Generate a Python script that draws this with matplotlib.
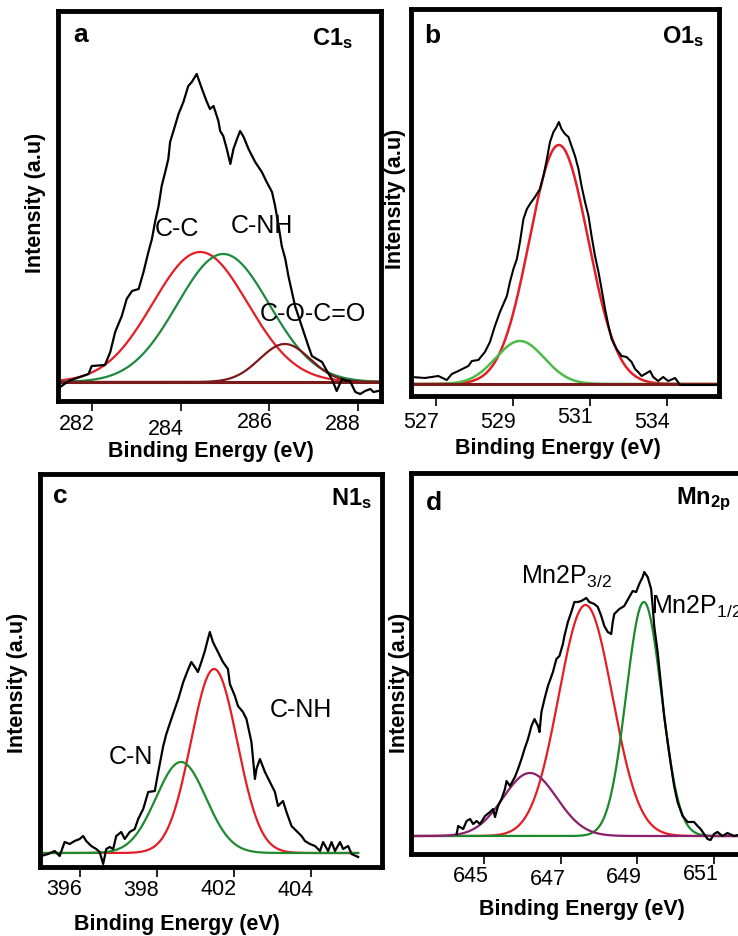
import numpy as np
import matplotlib
matplotlib.use('Agg')
import matplotlib.pyplot as plt
from matplotlib.transforms import ScaledTranslation

plt.rcParams['font.family'] = ['Liberation Sans', 'DejaVu Sans']
plt.rcParams['mathtext.fontset'] = 'custom'
plt.rcParams['mathtext.rm'] = 'Liberation Sans'
plt.rcParams['mathtext.bf'] = 'Liberation Sans:bold'
plt.rcParams['mathtext.it'] = 'Liberation Sans:italic'

W, H = 738, 937

# ---- panel a : C1s ----
c1s_x = [281.28, 281.47, 281.92, 281.99, 282.29, 282.41, 282.52, 282.67, 282.78, 282.90,
         283.05, 283.16, 283.27, 283.35, 283.42, 283.50, 283.57, 283.65, 283.72, 283.76,
         283.87, 283.95, 284.06, 284.17, 284.25, 284.36, 284.48, 284.59, 284.66, 284.74,
         284.85, 284.89, 284.96, 285.04, 285.12, 285.19, 285.27, 285.34, 285.42, 285.53,
         285.68, 285.83, 285.94, 286.06, 286.13, 286.21, 286.28, 286.36, 286.43, 286.51,
         286.58, 286.73, 286.88, 286.96, 287.07, 287.19, 287.30, 287.41, 287.52, 287.64,
         287.75, 287.82, 287.94, 288.05, 288.16, 288.28, 288.35, 288.46]
c1s_y = [-5, 1, 8, 16, 17, 30, 50, 66, 83, 91,
         93, 110, 130, 143, 160, 176, 196, 210, 223, 240,
         256, 268, 280, 296, 300, 308, 293, 280, 273, 276,
         261, 251, 246, 233, 218, 233, 243, 251, 245, 233,
         220, 210, 200, 190, 176, 156, 136, 123, 106, 90,
         76, 56, 36, 26, 23, 20, 11, 3, -9, 3,
         1, 1, -10, -12, -9, -7, -10, -9]
c1s_pos = [284.44, 284.96, 286.35]
c1s_amp = [130, 128, 38]
c1s_sig = [1.07, 1.04, 0.57]
c1s_names = ['C-C', 'C-NH', 'C-O-C=O']
c1s_ticks = [282, 284, 286, 288]
c1s_ticklabels = ['282', '284', '286', '288']

# ---- panel b : O1s ----
o1s_x = [526.37, 526.71, 527.06, 527.28, 527.41, 527.58, 527.84, 527.93, 528.10, 528.27,
         528.40, 528.53, 528.66, 528.75, 528.84, 528.92, 529.01, 529.10, 529.18, 529.27,
         529.36, 529.44, 529.57, 529.70, 529.79, 529.87, 529.96, 530.05, 530.13, 530.19,
         530.26, 530.35, 530.44, 530.52, 530.61, 530.70, 530.78, 530.87, 530.96, 531.04,
         531.13, 531.22, 531.30, 531.39, 531.48, 531.56, 531.69, 531.82, 531.95, 532.08,
         532.17, 532.25, 532.34, 532.43, 532.56, 532.64, 532.77, 532.90, 533.03, 533.21,
         533.34, 534.33]
o1s_y = [7, 6, 8, 4, 10, 13, 18, 23, 24, 32,
         42, 58, 72, 80, 88, 102, 115, 125, 142, 165,
         175, 180, 187, 195, 208, 223, 242, 252, 257, 262,
         255, 250, 247, 238, 228, 215, 198, 182, 168, 148,
         128, 112, 95, 75, 58, 45, 35, 28, 27, 22,
         15, 12, 8, 10, 13, 7, 3, 7, 3, 6,
         -1, -1]
o1s_pos = [530.19, 529.18]
o1s_amp = [239, 43]
o1s_sig = [0.76, 0.63]
o1s_ticks = [527, 529, 531, 533]
o1s_ticklabels = ['527', '529', '531', '534']

# ---- panel c : N1s ----
n1s_x = [394.99, 395.17, 395.34, 395.47, 395.60, 395.73, 395.86, 395.99, 396.08, 396.16,
         396.29, 396.42, 396.51, 396.60, 396.68, 396.77, 396.86, 396.94, 397.07, 397.16,
         397.29, 397.42, 397.51, 397.64, 397.77, 397.94, 398.03, 398.16, 398.24, 398.37,
         398.46, 398.55, 398.68, 398.81, 398.89, 398.98, 399.06, 399.15, 399.24, 399.32,
         399.37, 399.45, 399.58, 399.71, 399.84, 399.89, 400.02, 400.10, 400.23, 400.32,
         400.45, 400.54, 400.58, 400.67, 400.80, 400.93, 401.06, 401.14, 401.27, 401.36,
         401.49, 401.62, 401.75, 401.84, 401.97, 402.10, 402.23, 402.31, 402.44, 402.53,
         402.62, 402.75, 402.83, 402.96, 403.05, 403.22]
n1s_y = [-3, -1, 2, -3, 11, 9, 12, 14, 17, 12,
         7, 4, 1, -11, 4, 6, 4, 17, 21, 14,
         21, 24, 34, 44, 61, 62, 81, 107, 119, 134,
         144, 154, 171, 184, 191, 186, 181, 191, 202, 214,
         221, 211, 201, 191, 184, 169, 157, 147, 141, 134,
         111, 74, 84, 94, 81, 71, 61, 47, 52, 41,
         27, 22, 17, 12, 9, 7, 2, 11, 2, 11,
         2, 11, 4, 7, -1, -4]
n1s_pos = [399.48, 398.62]
n1s_amp = [184, 91]
n1s_sig = [0.60, 0.65]
n1s_names = ['C-NH', 'C-N']
n1s_ticks = [396, 398, 400, 402]
n1s_ticklabels = ['396', '398', '402', '404']

# ---- panel d : Mn2p ----
mn_x = [644.29, 644.33, 644.46, 644.55, 644.64, 644.72, 644.81, 644.90, 645.03, 645.16,
        645.24, 645.29, 645.37, 645.46, 645.55, 645.59, 645.68, 645.81, 645.89, 645.98,
        646.06, 646.15, 646.24, 646.32, 646.41, 646.45, 646.50, 646.58, 646.67, 646.80,
        646.89, 646.97, 647.06, 647.10, 647.19, 647.28, 647.36, 647.45, 647.54, 647.67,
        647.75, 647.88, 647.97, 648.06, 648.14, 648.23, 648.32, 648.36, 648.40, 648.53,
        648.66, 648.79, 648.88, 648.97, 649.05, 649.14, 649.18, 649.27, 649.36, 649.40,
        649.44, 649.53, 649.62, 649.70, 649.79, 649.88, 649.96, 650.05, 650.18, 650.31,
        650.48, 650.57, 650.65, 650.74, 650.83, 650.91, 651.00, 651.09, 651.22, 651.35,
        651.52, 651.75, 652.00]
mn_y = [2, 10, 7, 15, 17, 12, 15, 12, 20, 24,
        27, 19, 30, 37, 47, 55, 50, 59, 67, 77,
        87, 97, 110, 117, 110, 104, 124, 137, 150, 164,
        177, 180, 192, 200, 214, 224, 234, 234, 235, 238,
        234, 232, 229, 220, 210, 204, 202, 214, 222, 227,
        230, 239, 245, 244, 252, 259, 264, 259, 247, 230,
        210, 184, 150, 120, 94, 70, 50, 34, 20, 14,
        14, 10, 7, 2, -3, -4, 2, 4, 0, 3,
        0, 2, 1]
mn_pos = [647.65, 649.17, 646.20]
mn_amp = [231, 234, 63]
mn_sig = [0.70, 0.46, 0.70]
mn_names = ['Mn2P$_{3/2}$', 'Mn2P$_{1/2}$']
mn_ticks = [645, 647, 649, 651]
mn_ticklabels = ['645', '647', '649', '651']

RED = '#e41e26'
MAROON = '#7a1a1a'


def gauss(xx, p, a, s):
    return a * np.exp(-(xx - p) ** 2 / (2 * s ** 2))


def fig_xy(px, py):
    return px / W, 1 - py / H


fig = plt.figure(figsize=(W / 100, H / 100), dpi=100)


def make_panel(box, xlim, ylim, ticks, ticklabels, dx, dys):
    l, t, r, b = box
    ax = fig.add_axes([l / W, 1 - b / H, (r - l) / W, (b - t) / H])
    ax.set_xlim(*xlim)
    ax.set_ylim(*ylim)
    ax.set_yticks([])
    ax.set_xticks(ticks)
    ax.set_xticklabels(ticklabels, fontsize=15.5)
    ax.tick_params(axis='x', direction='out', length=7, width=1.2, pad=1.0)
    for sp in ax.spines.values():
        sp.set_linewidth(3.5)
    for lab, dy in zip(ax.get_xticklabels(), dys):
        lab.set_transform(lab.get_transform() + ScaledTranslation(dx / 100, -dy / 100, fig.dpi_scale_trans))
    return ax


def labels(lx, ly, xlx, xly, letter, lpos, title, tpos):
    fig.text(*fig_xy(lx, ly), 'Intensity (a.u)', rotation=90, fontsize=15.5,
             fontweight='bold', ha='center', va='center')
    fig.text(*fig_xy(xlx, xly), 'Binding Energy (eV)', fontsize=15.5,
             fontweight='bold', ha='center', va='center')
    fig.text(*fig_xy(*lpos), letter, fontsize=19, fontweight='bold', ha='left', va='baseline')
    fig.text(*fig_xy(*tpos), title, fontsize=17, ha='right', va='baseline')


# a
ax = make_panel((58, 12, 381, 402), (281.23, 288.52), (-19, 371),
                c1s_ticks, c1s_ticklabels, -15, [1, 6, -1, 1])
xx = np.linspace(281.23, 288.52, 500)
for p, a, s, c in zip(c1s_pos, c1s_amp, c1s_sig, [RED, '#1b8a3e', MAROON]):
    ax.plot(xx, gauss(xx, p, a, s), color=c, lw=1.6)
ax.axhline(0, color=MAROON, lw=2.2)
ax.plot(c1s_x, c1s_y, color='black', lw=1.6)
ax.text(283.92, 154, c1s_names[0], fontsize=18, ha='center', va='center')
ax.text(285.83, 157, c1s_names[1], fontsize=18, ha='center', va='center')
ax.text(286.99, 69, c1s_names[2], fontsize=18, ha='center', va='center')
labels(35, 203, 211, 452, 'a', (73, 42), r'$\mathbf{C1_s}$', (353, 45))

# b
ax = make_panel((411, 10, 719, 397), (526.35, 534.35), (-12, 375),
                o1s_ticks, o1s_ticklabels, -15, [4, 4, -1, 4])
xx = np.linspace(526.35, 534.35, 500)
for p, a, s, c in zip(o1s_pos, o1s_amp, o1s_sig, [RED, '#4cbb47']):
    ax.plot(xx, gauss(xx, p, a, s), color=c, lw=1.8)
ax.axhline(0, color=MAROON, lw=2.2)
ax.plot(o1s_x, o1s_y, color='black', lw=1.5)
labels(396, 199, 558, 449, 'b', (424, 43), r'$\mathbf{O1_s}$', (704, 43))

# c
ax = make_panel((40, 475, 382, 868), (394.96, 403.84), (-14, 379),
                n1s_ticks, n1s_ticklabels, -16, [0, 1, 0, 1])
xx = np.linspace(min(n1s_x), max(n1s_x), 500)
for p, a, s, c in zip(n1s_pos, n1s_amp, n1s_sig, [RED, '#1f8a2e']):
    ax.plot(xx, gauss(xx, p, a, s), color=c, lw=1.6)
ax.plot(n1s_x, n1s_y, color='black', lw=1.6)
ax.text(401.74, 144, n1s_names[0], fontsize=18, ha='center', va='center')
ax.text(397.32, 97, n1s_names[1], fontsize=18, ha='center', va='center')
labels(18, 683, 177, 925, 'c', (53, 503), r'$\mathbf{N1_s}$', (372, 505))

# d
ax = make_panel((411, 474, 752, 855), (643.10, 651.99), (-18, 363),
                mn_ticks, mn_ticklabels, -13, [0, 3, 1, -2])
xx = np.linspace(643.10, 651.99, 500)
for p, a, s, c in zip(mn_pos, mn_amp, mn_sig, [RED, '#1a8a2a', '#8a1f6e']):
    ax.plot(xx, gauss(xx, p, a, s), color=c, lw=1.6)
ax.plot(mn_x, mn_y, color='black', lw=1.6)
ax.text(645.96, 253, mn_names[0], fontsize=18, ha='left', va='baseline')
# the reference crops this label at the right edge of the figure
ax.text(649.35, 223, mn_names[1], fontsize=18, ha='left', va='baseline', clip_on=False)
labels(399, 683, 582, 910, 'd', (426, 510), r'$\mathbf{Mn_{2p}}$', (731, 504))

fig.savefig('out.png', dpi=100)
